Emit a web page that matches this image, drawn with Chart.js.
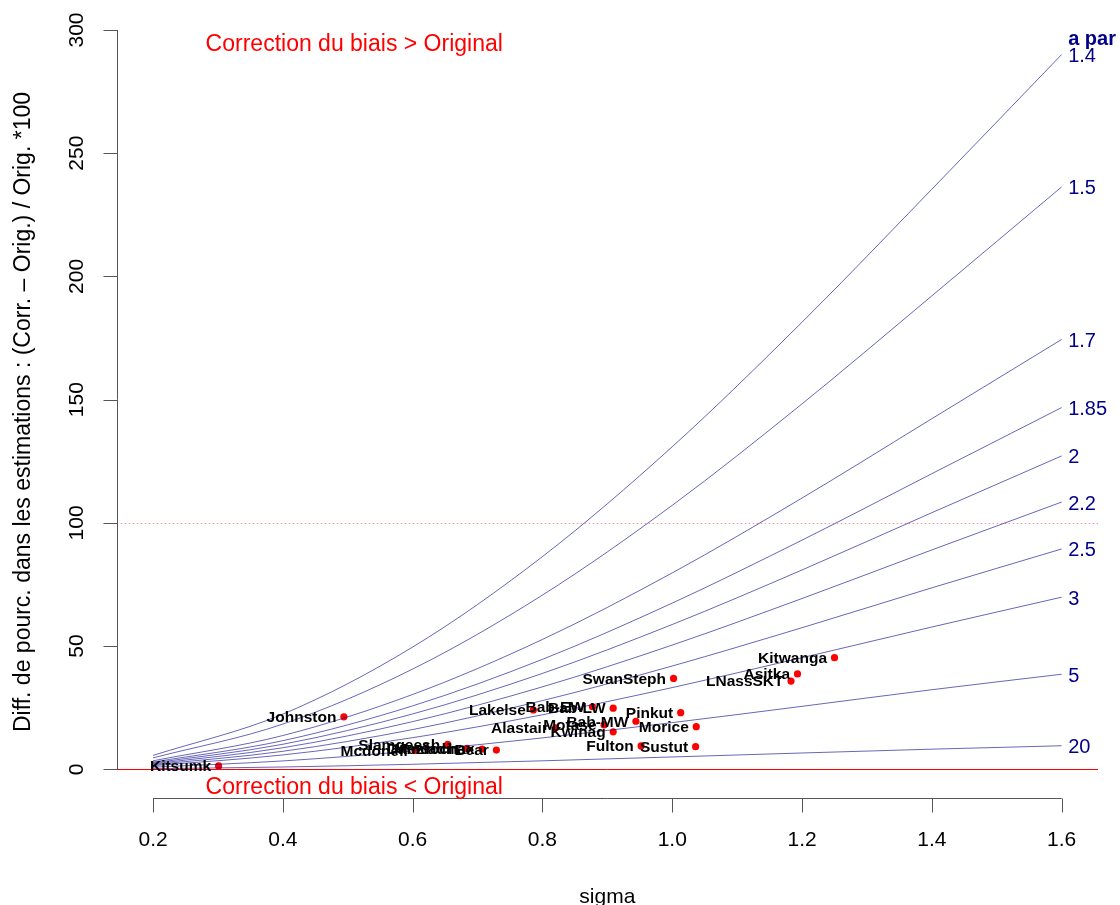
<!DOCTYPE html>
<html>
<head>
<meta charset="utf-8">
<title>Correction du biais</title>
<script src="https://cdn.jsdelivr.net/npm/chart.js@4.4.1/dist/chart.umd.min.js"></script>
<style>
  html, body { margin: 0; padding: 0; background: #ffffff; }
  #biasChart { display: block; }
</style>
</head>
<body>
<canvas id="biasChart" width="1120" height="905"></canvas>
<script>
// sigma values at which every curve is tabulated
const sigmaGrid = [0.2, 0.4, 0.6, 0.8, 1.0, 1.2, 1.4, 1.6];

// one curve per value of the productivity parameter a
const aLabels = ['1.4', '1.5', '1.7', '1.85', '2', '2.2', '2.5', '3', '5', '20'];
const curveA1_4  = [5.65, 22.39, 49.61, 86.32, 130.90, 181.44, 235.39, 290.04];
const curveA1_5  = [4.64, 18.36, 40.68, 70.70, 107.13, 148.30, 192.12, 236.33];
const curveA1_7  = [3.46, 13.71, 30.37, 52.70, 79.70, 110.08, 142.27, 174.43];
const curveA1_85 = [2.94, 11.63, 25.75, 44.63, 67.45, 93.00, 119.96, 146.79];
const curveA2    = [2.57, 10.17, 22.47, 38.92, 58.77, 80.89, 104.14, 127.17];
const curveA2_2  = [2.21, 8.75, 19.35, 33.47, 50.42, 69.31, 89.03, 108.45];
const curveA2_5  = [1.85, 7.31, 16.14, 27.88, 41.93, 57.47, 73.65, 89.41];
const curveA3    = [1.48, 5.84, 12.84, 22.13, 33.17, 45.29, 57.75, 69.85];
const curveA5    = [0.87, 3.41, 7.46, 12.76, 18.95, 25.56, 32.30, 38.59];
const curveA20   = [0.24, 0.95, 2.05, 3.45, 5.02, 6.63, 8.18, 9.56];
const curveValues = [curveA1_4, curveA1_5, curveA1_7, curveA1_85, curveA2,
                     curveA2_2, curveA2_5, curveA3, curveA5, curveA20];

// stocks: sigma and percent difference of the corrected estimate
const stockNames = ['Kitsumk', 'Johnston', 'Mcdonell', 'Slamgeesh', 'Meziadin',
  'Damdochax', 'Bear', 'Lakelse', 'Alastair', 'Bab-EW', 'Bab-LW', 'Motase',
  'Kwinag', 'Bab-MW', 'Fulton', 'SwanSteph', 'Pinkut', 'Sustut', 'Morice',
  'LNassSKT', 'Asitka', 'Kitwanga'];
const stockSigma = [0.301, 0.494, 0.604, 0.654, 0.684,
  0.707, 0.729, 0.786, 0.820, 0.877, 0.909, 0.895,
  0.909, 0.944, 0.952, 1.002, 1.013, 1.036, 1.037,
  1.183, 1.193, 1.250];
const stockDiff = [1.4, 21.3, 7.7, 10.1, 8.5,
  8.2, 7.8, 24.1, 16.8, 25.4, 24.8, 18.0,
  15.2, 19.5, 9.5, 36.9, 23.0, 9.2, 17.3,
  35.8, 38.7, 45.3];

const xTicks = [0.2, 0.4, 0.6, 0.8, 1.0, 1.2, 1.4, 1.6];
const yTicks = [0, 50, 100, 150, 200, 250, 300];

const FONT = '"Liberation Sans", Arial, Helvetica, sans-serif';
const CURVE_COLOR = 'rgba(0, 0, 139, 0.6)';
const LABEL_BLUE = '#00008b';

// build the line datasets from the tabulated curves
const curveDatasets = curveValues.map((vals, i) => ({
  label: 'a = ' + aLabels[i],
  data: sigmaGrid.map((s, j) => ({ x: s, y: vals[j] })),
  showLine: true,
  borderColor: CURVE_COLOR,
  borderWidth: 1,
  pointRadius: 0,
  pointHoverRadius: 0,
  cubicInterpolationMode: 'monotone',
  fill: false
}));

const stockDataset = {
  label: 'stocks',
  data: stockSigma.map((s, i) => ({ x: s, y: stockDiff[i] })),
  pointRadius: 3.6,
  pointBackgroundColor: '#ff0000',
  pointBorderWidth: 0,
  showLine: false
};

// R-style decorations: detached axes, reference lines and text
const rDecor = {
  id: 'rDecor',
  beforeDatasetsDraw(chart) {
    const { ctx, chartArea: area, scales: { y } } = chart;
    ctx.save();
    ctx.strokeStyle = '#ff0000';
    ctx.lineWidth = 1;
    const y0 = Math.round(y.getPixelForValue(0)) + 0.5;
    ctx.beginPath();
    ctx.moveTo(area.left, y0);
    ctx.lineTo(area.right, y0);
    ctx.stroke();
    // dotted line at +100 %
    ctx.strokeStyle = 'rgba(255, 60, 60, 0.55)';
    ctx.setLineDash([1.5, 2.5]);
    const y100 = Math.round(y.getPixelForValue(100)) + 0.5;
    ctx.beginPath();
    ctx.moveTo(area.left, y100);
    ctx.lineTo(area.right, y100);
    ctx.stroke();
    ctx.restore();
  },
  afterDatasetsDraw(chart) {
    const { ctx, chartArea: area, scales: { x, y } } = chart;
    ctx.save();

    // axes
    ctx.strokeStyle = '#555555';
    ctx.lineWidth = 1;
    const ax = Math.round(area.left) + 0.5;
    ctx.beginPath();
    ctx.moveTo(ax, y.getPixelForValue(0));
    ctx.lineTo(ax, y.getPixelForValue(300));
    yTicks.forEach(t => {
      const py = Math.round(y.getPixelForValue(t)) + 0.5;
      ctx.moveTo(ax, py);
      ctx.lineTo(ax - 14, py);
    });
    const ay = Math.round(area.bottom) - 0.5;
    ctx.moveTo(x.getPixelForValue(0.2), ay);
    ctx.lineTo(x.getPixelForValue(1.6), ay);
    xTicks.forEach(t => {
      const px = Math.round(x.getPixelForValue(t)) + 0.5;
      ctx.moveTo(px, ay);
      ctx.lineTo(px, ay + 14);
    });
    ctx.stroke();

    // tick labels
    ctx.fillStyle = '#000000';
    ctx.font = '21px ' + FONT;
    ctx.textAlign = 'center';
    ctx.textBaseline = 'alphabetic';
    xTicks.forEach(t => {
      ctx.fillText(t.toFixed(1), x.getPixelForValue(t), 846);
    });
    yTicks.forEach(t => {
      ctx.save();
      ctx.translate(83, y.getPixelForValue(t));
      ctx.rotate(-Math.PI / 2);
      ctx.fillText(String(t), 0, 0);
      ctx.restore();
    });

    // axis titles
    ctx.fillText('sigma', x.getPixelForValue(0.9), 903);
    ctx.save();
    ctx.translate(30, 412);
    ctx.rotate(-Math.PI / 2);
    ctx.font = '23px ' + FONT;
    ctx.fillText('Diff. de pourc. dans les estimations : (Corr. \u2013 Orig.) / Orig. *100', 0, 0);
    ctx.restore();

    // stock names, to the left of each point
    ctx.font = 'bold 15.5px ' + FONT;
    ctx.textAlign = 'right';
    ctx.textBaseline = 'middle';
    stockNames.forEach((name, i) => {
      const px = x.getPixelForValue(stockSigma[i]);
      const py = y.getPixelForValue(stockDiff[i]);
      ctx.fillText(name, px - 7.5, py + 1);
    });

    // curve labels at the right end
    ctx.fillStyle = LABEL_BLUE;
    ctx.font = '20px ' + FONT;
    ctx.textAlign = 'left';
    curveValues.forEach((vals, i) => {
      const last = vals.length - 1;
      const px = x.getPixelForValue(sigmaGrid[last]);
      const py = y.getPixelForValue(vals[last]);
      ctx.fillText(aLabels[i], px + 6.5, py + 2);
    });
    ctx.font = 'bold 20px ' + FONT;
    ctx.fillText('a par', x.getPixelForValue(1.6) + 6.5, y.getPixelForValue(296.2));

    // interpretation notes
    ctx.fillStyle = '#ff0000';
    ctx.font = '23px ' + FONT;
    ctx.textAlign = 'center';
    ctx.fillText('Correction du biais > Original', x.getPixelForValue(0.51), y.getPixelForValue(294));
    ctx.fillText('Correction du biais < Original', x.getPixelForValue(0.51), y.getPixelForValue(-7.6));

    ctx.restore();
  }
};

new Chart(document.getElementById('biasChart'), {
  type: 'scatter',
  data: { datasets: [...curveDatasets, stockDataset] },
  options: {
    responsive: false,
    animation: false,
    devicePixelRatio: 1,
    layout: {
      autoPadding: false,
      padding: { left: 116.7, right: 22, top: 0.4, bottom: 106.1 }
    },
    scales: {
      x: { type: 'linear', min: 0.144, max: 1.656, display: false },
      y: { type: 'linear', min: -12, max: 312, display: false }
    },
    plugins: {
      legend: { display: false },
      tooltip: { enabled: false }
    }
  },
  plugins: [rDecor]
});
</script>
</body>
</html>
